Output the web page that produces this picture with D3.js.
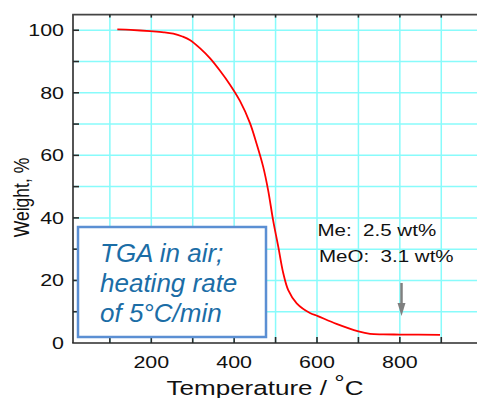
<!DOCTYPE html>
<html>
<head>
<meta charset="utf-8">
<script src="https://cdn.jsdelivr.net/npm/d3@7"></script>
<style>
  body { margin: 0; background: #fff; }
  svg { display: block; font-family: "Liberation Sans", Arial, sans-serif; }
</style>
</head>
<body>
<div id="chart"></div>
<script>
// TGA curve: temperature (°C) and weight (%)
const temps   = [118, 150, 197, 230, 253, 275, 293, 318, 342, 365, 390, 414, 438, 454, 470, 482, 494, 506.5, 518.6, 530.6, 551, 583, 602, 647, 700, 728, 760, 800, 897];
const weights = [100.3, 100.1, 99.7, 99.35, 98.9, 98.0, 96.9, 94.2, 91.0, 87.2, 82.6, 77.4, 70.4, 63.8, 56.4, 48.9, 39.3, 30.8, 22.3, 16.9, 12.7, 9.6, 8.6, 6.1, 3.7, 2.9, 2.75, 2.7, 2.6];

const xTickLabels = [200, 400, 600, 800];
const xTicks = [100, 200, 300, 400, 500, 600, 700, 800, 900, 1000];
const yTickLabels = [0, 20, 40, 60, 80, 100];
const yTicks = [10, 20, 30, 40, 50, 60, 70, 80, 90, 100];
const notes = ["Me:  2.5 wt%", "MeO:  3.1 wt%"];
const boxLines = ["TGA in air;", "heating rate", "of 5\u00B0C/min"];
const arrowAt = { t: 804, from: 19.2, to: 8.6 };

const width = 477, height = 398;
const stretch = 1.3; // labels in the picture are stretched sideways

const svg = d3.select('#chart').append('svg')
  .attr('width', width)
  .attr('height', height);

const x = d3.scaleLinear().domain([11, 1000]).range([73, 482.7]);
const y = d3.scaleLinear().domain([0, 105]).range([343, 14.6]);

// grid
const grid = svg.append('g').attr('stroke', '#88fbfb').attr('stroke-width', 1.5);
grid.selectAll('.gv').data(xTicks).join('line')
  .attr('x1', d => x(d)).attr('x2', d => x(d))
  .attr('y1', y(0)).attr('y2', y(105));
grid.selectAll('.gh').data(yTicks).join('line')
  .attr('x1', x(11)).attr('x2', x(1000))
  .attr('y1', d => y(d)).attr('y2', d => y(d));

// frame: left, bottom, top
const frame = svg.append('g').attr('stroke', '#2a2a2a').attr('stroke-width', 1.6);
frame.append('line').attr('x1', x(11)).attr('x2', x(11)).attr('y1', y(105)).attr('y2', y(0));
frame.append('line').attr('x1', x(11) - 0.8).attr('x2', x(1000)).attr('y1', y(0)).attr('y2', y(0));
frame.append('line').attr('x1', x(11) - 0.8).attr('x2', x(1000)).attr('y1', y(105)).attr('y2', y(105))
  .attr('stroke', '#444');

// ticks
frame.selectAll('.tx').data(xTicks).join('line')
  .attr('x1', d => x(d)).attr('x2', d => x(d))
  .attr('y1', y(0)).attr('y2', y(0) - 6);
frame.selectAll('.tt').data(xTicks).join('line')
  .attr('x1', d => x(d)).attr('x2', d => x(d))
  .attr('y1', y(105)).attr('y2', y(105) + 3);
frame.selectAll('.ty').data(yTicks).join('line')
  .attr('x1', x(11)).attr('x2', x(11) + 6)
  .attr('y1', d => y(d)).attr('y2', d => y(d));

// tick labels
svg.append('g').selectAll('text').data(xTickLabels).join('text')
  .attr('transform', d => `translate(${x(d)},368) scale(${stretch},1)`)
  .attr('text-anchor', 'middle')
  .attr('font-size', 16.5)
  .attr('fill', '#111')
  .text(d => d);

svg.append('g').selectAll('text').data(yTickLabels).join('text')
  .attr('transform', d => `translate(64,${y(d) + 6}) scale(${stretch},1)`)
  .attr('text-anchor', 'end')
  .attr('font-size', 16.5)
  .attr('fill', '#111')
  .text(d => d);

// axis titles
const xt = svg.append('text')
  .attr('transform', `translate(265,395) scale(1.27,1)`)
  .attr('text-anchor', 'middle')
  .attr('font-size', 20.5)
  .attr('fill', '#111');
xt.append('tspan').text('Temperature / ');
xt.append('tspan').attr('dy', -5).text('\u00B0');
xt.append('tspan').attr('dy', 5).text('C');

svg.append('text')
  .attr('transform', `translate(29,197.5) scale(1.3,1) rotate(-90)`)
  .attr('text-anchor', 'middle')
  .attr('font-size', 17.5)
  .attr('fill', '#111')
  .text('Weight, %');

// curve
const pts = temps.map((t, i) => [t, weights[i]]);
const line = d3.line().x(d => x(d[0])).y(d => y(d[1])).curve(d3.curveCatmullRom.alpha(0.5));
svg.append('path')
  .datum(pts)
  .attr('d', line)
  .attr('fill', 'none')
  .attr('stroke', '#ff0000')
  .attr('stroke-width', 1.8);

// notes
svg.append('g').selectAll('text').data(notes).join('text')
  .attr('transform', (d, i) => `translate(${317.5 + i * 1.5},${235.7 + i * 26}) scale(${stretch},1)`)
  .attr('font-size', 15.8)
  .attr('fill', '#111')
  .style('white-space', 'pre')
  .text(d => d);

// arrow
const ax = x(arrowAt.t);
svg.append('line')
  .attr('x1', ax).attr('x2', ax)
  .attr('y1', y(arrowAt.from)).attr('y2', y(arrowAt.to) - 10)
  .attr('stroke', '#808080').attr('stroke-width', 2.5);
svg.append('path')
  .attr('d', `M${ax - 4},${y(arrowAt.to) - 13} L${ax + 4},${y(arrowAt.to) - 13} L${ax},${y(arrowAt.to)} Z`)
  .attr('fill', '#808080');

// legend box
svg.append('rect')
  .attr('x', 78).attr('y', 227)
  .attr('width', 188).attr('height', 110)
  .attr('fill', '#fff')
  .attr('stroke', '#5b8fd3')
  .attr('stroke-width', 2.5);

svg.append('g').selectAll('text').data(boxLines).join('text')
  .attr('x', 100)
  .attr('y', (d, i) => 261.7 + i * 30)
  .attr('font-size', 26)
  .attr('font-style', 'italic')
  .attr('fill', '#1b6da6')
  .text(d => d);
</script>
</body>
</html>
